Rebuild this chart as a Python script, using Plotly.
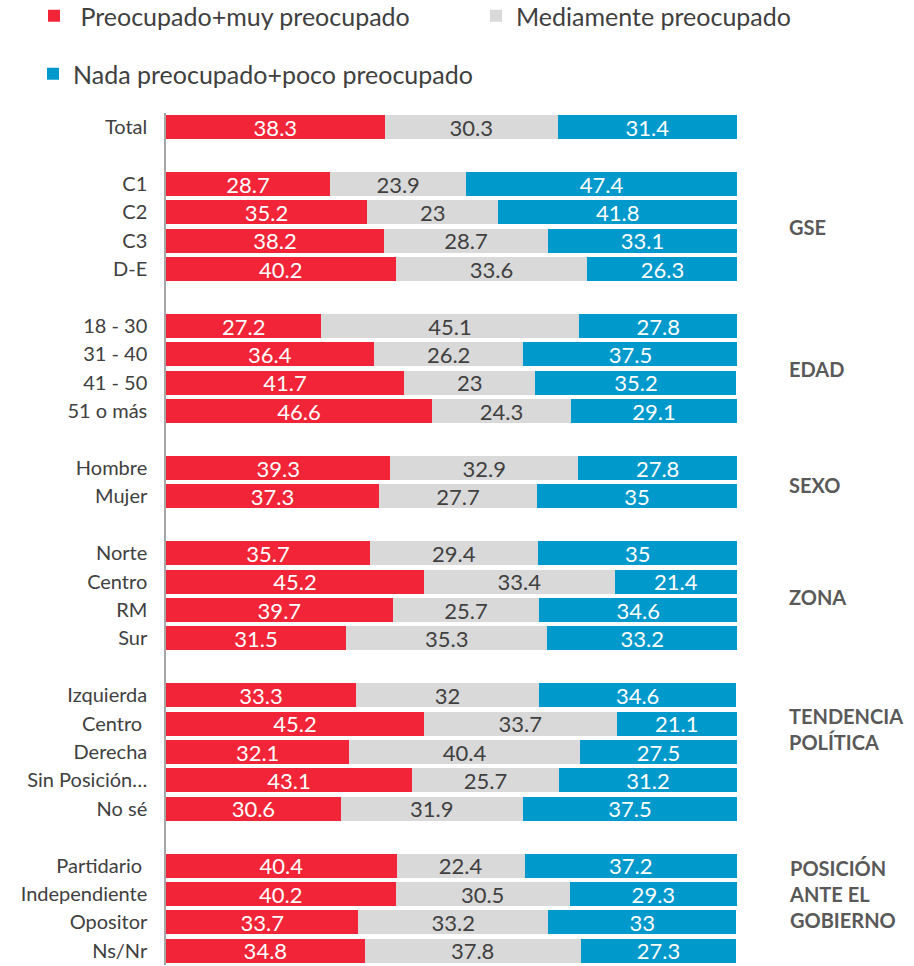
import plotly.graph_objects as go

# ---- data ----
categories = ["Total", None,
              "C1", "C2", "C3", "D-E", None,
              "18 - 30", "31 - 40", "41 - 50", "51 o más", None,
              "Hombre", "Mujer", None,
              "Norte", "Centro", "RM", "Sur", None,
              "Izquierda", "Centro\u00a0", "Derecha", "Sin Posición…", "No sé", None,
              "Partidario\u00a0", "Independiente", "Opositor", "Ns/Nr"]

preocupado = [38.3, None,
              28.7, 35.2, 38.2, 40.2, None,
              27.2, 36.4, 41.7, 46.6, None,
              39.3, 37.3, None,
              35.7, 45.2, 39.7, 31.5, None,
              33.3, 45.2, 32.1, 43.1, 30.6, None,
              40.4, 40.2, 33.7, 34.8]

mediamente = [30.3, None,
              23.9, 23, 28.7, 33.6, None,
              45.1, 26.2, 23, 24.3, None,
              32.9, 27.7, None,
              29.4, 33.4, 25.7, 35.3, None,
              32, 33.7, 40.4, 25.7, 31.9, None,
              22.4, 30.5, 33.2, 37.8]

nada = [31.4, None,
        47.4, 41.8, 33.1, 26.3, None,
        27.8, 37.5, 35.2, 29.1, None,
        27.8, 35, None,
        35, 21.4, 34.6, 33.2, None,
        34.6, 21.1, 27.5, 31.2, 37.5, None,
        37.2, 29.3, 33, 27.3]

series_names = [" Preocupado+muy preocupado", "Mediamente preocupado",
                "Nada preocupado+poco preocupado"]

group_labels = ["GSE", "EDAD", "SEXO", "ZONA", "TENDENCIA<br>POLÍTICA",
                "POSICIÓN<br>ANTE EL<br>GOBIERNO"]
group_label_rows = [3.5, 8.5, 12.6, 16.55, 21.2, 27.0]

# ---- styling ----
RED = "#F22538"
GRAY = "#D9D9D9"
BLUE = "#0099CC"
TXT = "#404040"
FONT = "Lato"
W, H = 914, 966
ML, MR, MT, MB = 166, 177, 113, 1
PH = H - MT - MB

y_idx = list(range(len(categories)))
tickvals = [i for i, c in enumerate(categories) if c is not None]
ticktext = [c for c in categories if c is not None]


def fmt(vals):
    out = []
    for v in vals:
        if v is None:
            out.append("")
        elif float(v).is_integer():
            out.append(str(int(v)))
        else:
            out.append(str(v))
    return out


fig = go.Figure()
series = [(series_names[0], preocupado, RED, "white", "legend"),
          (series_names[1], mediamente, GRAY, TXT, "legend2"),
          (series_names[2], nada, BLUE, "white", "legend3")]
for name, vals, color, tcolor, leg in series:
    fig.add_trace(go.Bar(
        y=y_idx, x=vals, name=name, orientation="h",
        marker=dict(color=color, line=dict(width=0)),
        text=fmt(vals), textposition="inside", insidetextanchor="middle",
        textangle=0, constraintext="none",
        textfont=dict(family=FONT, size=22, color=tcolor),
        hoverinfo="skip", legend=leg, showlegend=True,
    ))

for lbl, row in zip(group_labels, group_label_rows):
    fig.add_annotation(
        x=1.087, xref="paper", y=row, yref="y", text=f"<b>{lbl}</b>",
        xanchor="left", yanchor="middle", align="left", showarrow=False,
        font=dict(family=FONT, size=20, color="#595959"),
    )


def leg(x_px, top_px):
    return dict(
        visible=True,
        orientation="h", xref="container", yref="paper",
        x=x_px / W, y=1 + (MT - top_px) / PH, xanchor="left", yanchor="top",
        font=dict(family=FONT, size=25, color=TXT),
        bgcolor="rgba(0,0,0,0)", itemclick=False, itemdoubleclick=False,
    )


fig.update_layout(
    width=W, height=H, showlegend=True,
    barmode="stack", bargap=0.155,
    plot_bgcolor="white", paper_bgcolor="white",
    margin=dict(l=ML, r=MR, t=MT, b=MB, autoexpand=False),
    font=dict(family=FONT, color=TXT),
    legend=leg(34, -7),
    legend2=leg(476, -7),
    legend3=leg(33, 51),
    xaxis=dict(range=[0, 100], visible=False, showgrid=False, fixedrange=True),
    yaxis=dict(
        range=[len(categories) - 0.5, -0.5], tickmode="array",
        tickvals=tickvals, ticktext=ticktext, showgrid=False, zeroline=False,
        showline=True, linecolor="#A6A6A6", linewidth=1.5,
        ticks="", ticklabelstandoff=13,
        tickfont=dict(family=FONT, size=20, color=TXT), fixedrange=True,
    ),
)

fig.write_html("out.html", config={"displayModeBar": False},
               post_script="document.body.style.margin='0';")
